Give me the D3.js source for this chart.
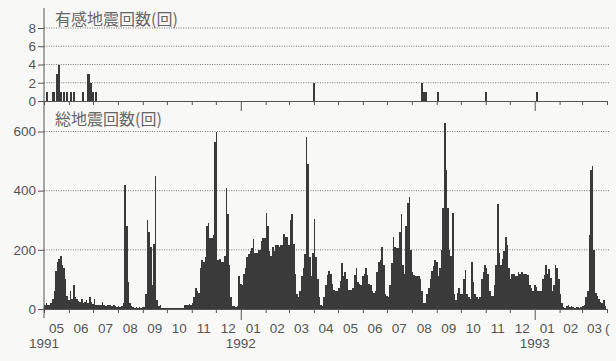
<!DOCTYPE html>
<html><head><meta charset="utf-8">
<script src="https://cdn.jsdelivr.net/npm/d3@7"></script>
<style>
html,body{margin:0;padding:0;background:#f8f8f6;}
svg{display:block;}
.num{font-family:"Liberation Sans",Arial,sans-serif;font-size:13.5px;fill:#555;}
.ttl{font-family:"Noto Sans CJK JP",sans-serif;font-size:16px;fill:#666;}
</style></head><body>
<svg id="c" width="616" height="361"></svg>
<script>
// ---- data ----
const topTitle = "有感地震回数(回)";
const bottomTitle = "総地震回数(回)";
const topTicks = [0, 2, 4, 6, 8];
const bottomTicks = [0, 200, 400, 600];
const yearLabels = ["1991", "1992", "1993"];
const yearDates = ["1991-05-01", "1992-01-01", "1993-01-01"];

// felt earthquakes per day
const feltDates = ["1991-05-03","1991-05-11","1991-05-12","1991-05-16","1991-05-19","1991-05-21",
  "1991-05-25","1991-05-28","1991-06-02","1991-06-06","1991-06-17","1991-06-23","1991-06-25",
  "1991-06-27","1991-06-29","1991-06-30","1991-07-03",
  "1992-03-31","1992-08-13","1992-08-15","1992-08-17","1992-09-01","1992-10-31","1993-01-02"];
const feltCounts = [1,1,1,3,4,1, 1,1,1,1,1,3,3, 2,1,1,1, 2,2,1,1,1,1,1];

// total earthquakes, 2-day bins starting 1991-05-01
const totalStart = "1991-05-01";
const totalBinDays = 2;
const totalCounts = [
  15,20,12,15,20,35,60,130,160,170,
  180,150,140,100,45,30,60,35,80,40,
  35,28,25,35,20,22,30,20,40,22,
  18,35,15,12,15,12,25,12,10,12,
  15,12,10,12,10,8,10,8,10,20,
  420,280,90,20,10,8,5,6,5,8,
  5,6,8,50,300,260,210,80,220,450,
  30,10,15,5,3,2,4,3,2,3,
  2,3,2,3,4,3,2,15,12,15,
  18,12,20,40,70,60,55,140,165,160,
  175,280,290,240,240,250,565,600,165,170,
  160,160,180,410,320,150,40,10,10,8,
  10,110,85,80,120,140,175,185,195,205,
  235,190,190,200,200,230,240,240,325,280,
  195,180,210,195,215,215,210,215,215,255,
  245,245,215,300,320,220,120,50,40,60,
  110,140,185,580,490,175,110,190,305,175,
  100,40,15,10,40,80,115,130,120,85,
  65,60,60,70,95,155,110,125,100,65,
  65,65,70,115,140,90,85,80,110,120,
  140,115,85,80,60,55,60,125,160,165,
  210,150,50,45,40,80,155,245,210,205,
  205,260,320,150,120,280,360,380,200,125,
  115,110,110,110,100,60,20,20,50,70,
  100,130,145,165,160,110,140,200,340,630,
  470,340,200,180,325,50,30,55,70,50,
  50,100,132,50,40,35,160,90,50,40,
  35,40,100,125,150,140,120,60,45,45,
  80,150,355,190,150,170,195,245,215,140,
  100,120,120,110,110,125,120,125,120,120,
  120,115,80,70,60,80,75,62,60,62,
  100,115,150,120,135,105,60,80,150,140,
  100,50,20,8,5,10,12,8,10,6,
  5,8,6,5,8,10,15,40,60,250,
  470,485,200,55,45,35,25,20,30,10
];

// ---- chart ----
const parse = d3.utcParse("%Y-%m-%d");
const svg = d3.select("#c");
const x = d3.scaleUtc().domain([parse("1991-05-01"), parse("1993-04-01")]).range([44, 607]);
const yTop = d3.scaleLinear().domain([0, 8]).range([101, 28]);
const yBot = d3.scaleLinear().domain([0, 600]).range([309, 131.5]);
const axisCol = "#555";
const gridEnd = 609;

// gridlines
svg.append("g").selectAll("line").data(topTicks.filter(d => d > 0)).join("line")
  .attr("x1", 44).attr("x2", gridEnd).attr("y1", d => yTop(d)).attr("y2", d => yTop(d))
  .attr("stroke", "#777").attr("stroke-dasharray", "1,1.4");
svg.append("g").selectAll("line").data(bottomTicks.filter(d => d > 0)).join("line")
  .attr("x1", 44).attr("x2", gridEnd).attr("y1", d => yBot(d)).attr("y2", d => yBot(d))
  .attr("stroke", "#777").attr("stroke-dasharray", "1,1.4");

// bottom bars
const start = parse(totalStart);
const bins = totalCounts.map((v, i) => ({
  t0: d3.utcDay.offset(start, i * totalBinDays),
  t1: d3.utcDay.offset(start, (i + 1) * totalBinDays), v }));
svg.append("g").attr("shape-rendering", "crispEdges")
  .selectAll("rect").data(bins).join("rect")
  .attr("x", d => Math.round(x(d.t0)))
  .attr("width", d => Math.max(1, Math.round(x(d.t1)) - Math.round(x(d.t0))))
  .attr("y", d => yBot(d.v)).attr("height", d => yBot(0) - yBot(d.v))
  .attr("fill", "#3a3a3a");

// top bars
const felt = feltDates.map((s, i) => ({ t: parse(s), v: feltCounts[i] }));
svg.append("g").attr("shape-rendering", "crispEdges")
  .selectAll("rect").data(felt).join("rect")
  .attr("x", d => Math.round(x(d.t))).attr("width", 2)
  .attr("y", d => yTop(d.v)).attr("height", d => yTop(0) - yTop(d.v))
  .attr("fill", "#3a3a3a");

// y axes
function styleAxis(g) {
  g.attr("font-family", null).attr("font-size", null);
  g.selectAll("text").attr("class", "num").attr("fill", null);
  g.selectAll("line").attr("stroke", axisCol);
  g.select(".domain").remove();
}
svg.append("g").attr("transform", "translate(44,0)")
  .call(d3.axisLeft(yTop).tickValues(topTicks).tickSize(6).tickPadding(2)).call(styleAxis);
svg.append("g").attr("transform", "translate(44,0)")
  .call(d3.axisLeft(yBot).tickValues(bottomTicks).tickSize(6).tickPadding(2)).call(styleAxis);

// left axis line
svg.append("line").attr("x1", 44).attr("x2", 44).attr("y1", 8).attr("y2", 318)
  .attr("stroke", axisCol);

// x axes (month ticks, long at year start)
function xAxisAt(y0, small, big) {
  const g = svg.append("g").attr("transform", `translate(0,${y0})`)
    .call(d3.axisBottom(x).ticks(d3.utcMonth.every(1)).tickSize(small).tickSizeOuter(0).tickFormat(""));
  g.select(".domain").attr("stroke", axisCol);
  g.selectAll(".tick line").attr("stroke", axisCol)
    .attr("y2", d => d.getUTCMonth() === 0 ? big : small);
}
xAxisAt(101, 4, 10);
xAxisAt(309, 4, 11);

// month labels
const months = d3.utcMonth.range(parse("1991-05-01"), parse("1993-04-01"));
svg.append("g").selectAll("text").data(months).join("text")
  .attr("class", "num").attr("text-anchor", "middle")
  .attr("x", d => (x(d) + x(d3.utcMonth.offset(d, 1))) / 2).attr("y", 333)
  .text(d => d3.utcFormat("%m")(d));
svg.append("text").attr("class", "num").attr("x", 605).attr("y", 333).text("(");

// year labels
svg.append("g").selectAll("text").data(yearLabels).join("text")
  .attr("class", "num").attr("text-anchor", "middle")
  .attr("x", (d, i) => x(parse(yearDates[i]))).attr("y", 348)
  .text(d => d);

// titles
svg.append("text").attr("class", "ttl").attr("x", 55).attr("y", 25).text(topTitle);
svg.append("text").attr("class", "ttl").attr("x", 55).attr("y", 125).text(bottomTitle);
</script>
</body></html>
